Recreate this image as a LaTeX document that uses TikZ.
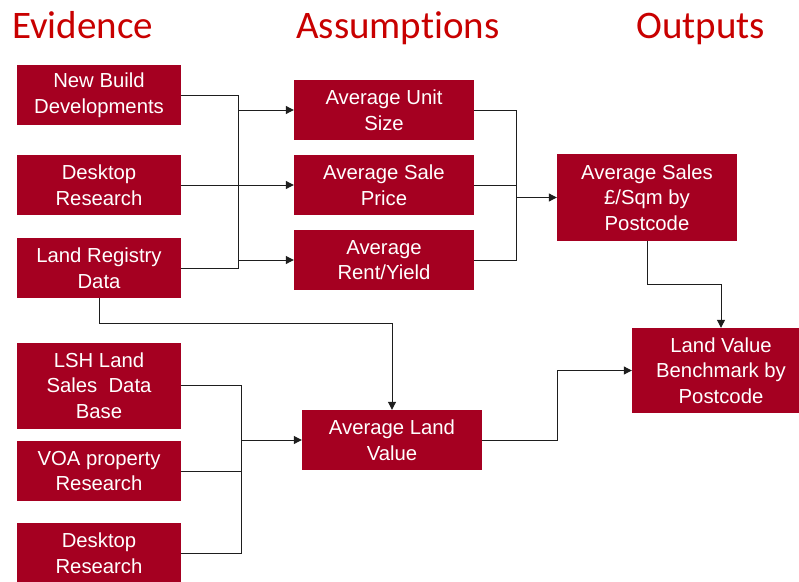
\documentclass[tikz,border=0pt]{standalone}
\usepackage{fontspec}
\setmainfont{Liberation Sans}
\newfontfamily\headfont[Ligatures=NoCommon]{Carlito}
\usetikzlibrary{arrows.meta,calc}
\definecolor{boxred}{RGB}{165,0,33}
\definecolor{headred}{RGB}{200,0,0}
\definecolor{linegray}{RGB}{30,30,30}
\tikzset{
  box/.style={fill=boxred, text=white, align=center, inner sep=0pt,
    font=\fontsize{20.3}{25.5}\selectfont, minimum width=#1},
  box/.default=164pt,
  head/.style={text=headred, anchor=base west, inner sep=0pt, font=\headfont\fontsize{39}{44}\selectfont},
  conn/.style={draw=linegray, line width=1pt},
  arr/.style={conn, -{Triangle[length=8pt,width=8pt]}},
}
\begin{document}
\begin{tikzpicture}[x=1pt,y=-1pt]
\useasboundingbox (0,0) rectangle (799,581);
\clip (0,0) rectangle (799,581);
% headings
\node[head] (hev) at (12,38) {Evidence};
\node[head] (has) at (296,38) {Assumptions};
\node[head] (hout) at (636,38) {Outputs};
% evidence
\node[box, minimum height=60pt] (nb) at (99,95) {New Build\\Developments};
\node[box, minimum height=60pt] (dr1) at (99,185) {Desktop\\Research};
\node[box, minimum height=60pt] (lr) at (99,268) {Land Registry\\Data};
\node[box, minimum height=86pt] (lsh) at (99,385.5) {LSH Land\\Sales~ Data\\Base};
\node[box, minimum height=60pt] (voa) at (99,471) {VOA property\\Research};
\node[box, minimum height=60pt] (dr2) at (99,553) {Desktop\\Research};
% assumptions
\node[box=180pt, minimum height=60pt] (aus) at (384,110) {Average Unit\\Size};
\node[box=180pt, minimum height=60pt] (asp) at (384,185) {Average Sale\\Price};
\node[box=180pt, minimum height=60pt] (arr) at (384,260) {Average\\Rent/Yield};
\node[box=180pt, minimum height=60pt] (alv) at (392,440) {Average Land\\Value};
% outputs
\node[box=180pt, minimum height=87pt] (asales) at (647,197.5) {Average Sales\\£/Sqm by\\Postcode};
\node[box=178pt, minimum height=85pt] (lvb) at (721,370.5) {Land Value\\Benchmark by\\Postcode};
% helper coordinates
\coordinate (b1) at (238,0);
\coordinate (b2) at (516,0);
\coordinate (b3) at (241,0);
\coordinate (b4) at (557,0);
\coordinate (k1) at (0,284);
\coordinate (k2) at (0,323);
% upper evidence bus
\draw[conn] (nb.east) -| (b1 |- lr.east) -- (lr.east);
\draw[arr] (dr1.east) -- (asp.west);
\draw[arr] (b1 |- aus.west) -- (aus.west);
\draw[arr] (b1 |- arr.west) -- (arr.west);
% assumptions bus
\draw[conn] (aus.east) -| (b2 |- arr.east) -- (arr.east);
\draw[conn] (asp.east) -- (b2 |- asp.east);
\draw[arr] (b2 |- asales.west) -- (asales.west);
% sales to benchmark
\draw[arr] (asales.south) -- (asales.south |- k1) -| (lvb.north);
% land registry to average land value
\draw[arr] (lr.south) -- (lr.south |- k2) -| (alv.north);
% lower evidence bus
\draw[conn] (lsh.east) -| (b3 |- dr2.east) -- (dr2.east);
\draw[conn] (voa.east) -- (b3 |- voa.east);
\draw[arr] (b3 |- alv.west) -- (alv.west);
% land value to benchmark
\draw[arr] (alv.east) -| (b4 |- lvb.west) -- (lvb.west);
\end{tikzpicture}
\end{document}
